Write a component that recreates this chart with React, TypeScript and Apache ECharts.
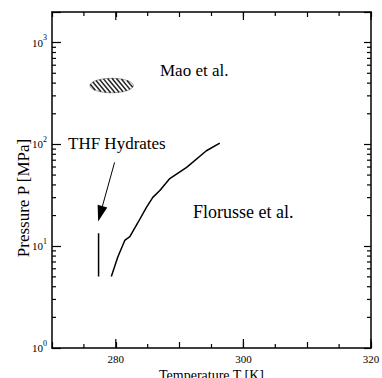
import React, { useEffect, useRef } from "react";
import * as echarts from "echarts";

// ---- data ----
const xMin = 270;
const xMax = 320;
const yMin = 1;
const yMax = 2000;

const florusseT = [279.3, 280.3, 281.4, 282.2, 283.5, 284.8, 285.8, 286.9, 288.4, 291.1, 294.2, 296.3];
const florusseP = [5.05, 7.8, 11.4, 12.4, 17.2, 24.1, 30.2, 35.2, 45.8, 59.6, 86.7, 103];

const thfT = [277.3, 277.3];
const thfP = [5.05, 13.4];

// hatched region (Mao et al.) bounds
const maoT = [275.95, 282.75];
const maoP = [322, 446];

// arrow from label to THF line
const arrowT = [279.81, 277.57];
const arrowP = [66.6, 20.8];

const xLabeledTicks = [280, 300, 320];
const xMinorTicks = [275, 285, 295, 305, 315];
const yDecades = [1, 10, 100, 1000];
const yMinorMultipliers = [2, 3, 4, 5, 6, 7, 8, 9];

const FONT = "Liberation Serif";

// layout
const W = 382;
const H = 378;
const G = { left: 52, right: 11, top: 12, bottom: 30 };

export default function App() {
  const ref = useRef<HTMLDivElement>(null);

  useEffect(() => {
    if (!ref.current) return;
    const chart = echarts.init(ref.current, null, { renderer: "svg" });

    const yMinorTicks: number[] = [];
    yDecades.forEach((d) =>
      yMinorMultipliers.forEach((m) => {
        const v = d * m;
        if (v < yMax) yMinorTicks.push(v);
      })
    );

    // convert tick lengths (px) into axis units
    const kPerPx = (xMax - xMin) / (W - G.left - G.right);
    const decPerPx = Math.log10(yMax / yMin) / (H - G.top - G.bottom);
    const yLow = yMin * 1.0005;

    const tickSeries: any[] = [];
    const seg = (a: number[], b: number[]) => ({
      type: "line",
      silent: true,
      symbol: "none",
      showSymbol: false,
      clip: false,
      z: 5,
      lineStyle: { color: "#000", width: 1.2 },
      data: [a, b],
    });
    yMinorTicks.forEach((v) => {
      const dx = 4 * kPerPx;
      tickSeries.push(seg([xMin, v], [xMin + dx, v]));
      tickSeries.push(seg([xMax - dx, v], [xMax, v]));
    });
    const xTick = (v: number, lenB: number, lenT: number) => {
      tickSeries.push(seg([v, yLow], [v, yMin * Math.pow(10, lenB * decPerPx)]));
      tickSeries.push(seg([v, yMax / Math.pow(10, lenT * decPerPx)], [v, yMax]));
    };
    xMinorTicks.forEach((v) => xTick(v, 4, 4));
    xLabeledTicks.forEach((v) => xTick(v, 9, 8));

    const ellipseRender = (params: any, api: any) => {
      const p1 = api.coord([api.value(0), api.value(1)]);
      const p2 = api.coord([api.value(2), api.value(3)]);
      const cx = (p1[0] + p2[0]) / 2;
      const cy = (p1[1] + p2[1]) / 2;
      const a = Math.abs(p2[0] - p1[0]) / 2;
      const b = Math.abs(p2[1] - p1[1]) / 2;
      const children: any[] = [
        {
          type: "ellipse",
          shape: { cx, cy, rx: a, ry: b },
          style: { fill: "#fff", stroke: "#888", lineWidth: 0.8 },
        },
      ];
      let ux = 1;
      let uy = 1.2;
      const nrm = Math.hypot(ux, uy);
      ux /= nrm;
      uy /= nrm;
      const nx = uy;
      const ny = -ux;
      const A = (ux * ux) / (a * a) + (uy * uy) / (b * b);
      const ext = Math.sqrt(a * a * nx * nx + b * b * ny * ny);
      const s = 3.4;
      for (let d = -ext + s / 2; d < ext; d += s) {
        const B = 2 * d * ((nx * ux) / (a * a) + (ny * uy) / (b * b));
        const C = d * d * ((nx * nx) / (a * a) + (ny * ny) / (b * b)) - 1;
        const disc = B * B - 4 * A * C;
        if (disc <= 0) continue;
        const t1 = (-B - Math.sqrt(disc)) / (2 * A);
        const t2 = (-B + Math.sqrt(disc)) / (2 * A);
        children.push({
          type: "line",
          shape: {
            x1: cx + d * nx + t1 * ux,
            y1: cy + d * ny + t1 * uy,
            x2: cx + d * nx + t2 * ux,
            y2: cy + d * ny + t2 * uy,
          },
          style: { stroke: "#222", lineWidth: 1.5 },
        });
      }
      return { type: "group", children };
    };

    const logLabel = (v: number) => {
      const e = Math.log10(v);
      const r = Math.round(e);
      if (Math.abs(e - r) > 1e-6) return "";
      return `{b|10}{s|${r}}`;
    };

    const axisLine = { show: true, onZero: false, lineStyle: { color: "#000", width: 1.5 } };

    const option: any = {
      animation: false,
      backgroundColor: "#fff",
      grid: { ...G, containLabel: false, outerBoundsMode: "none" },
      xAxis: [
        {
          type: "value",
          min: xMin,
          max: xMax,
          interval: 10,
          position: "bottom",
          axisLine,
          axisTick: { show: true, inside: true, length: 6, lineStyle: { color: "#000", width: 1.2 } },
          axisLabel: {
            color: "#000",
            fontFamily: FONT,
            fontSize: 11,
            margin: 5,
            formatter: (v: number) => (v % 20 === 0 ? String(v) : ""),
          },
          splitLine: { show: false },
          name: "Temperature T [K]",
          nameLocation: "middle",
          nameGap: 17,
          nameTextStyle: { color: "#000", fontFamily: FONT, fontSize: 14 },
        },
        {
          type: "value",
          min: xMin,
          max: xMax,
          interval: 10,
          position: "top",
          axisLine,
          axisTick: { show: true, inside: true, length: 5, lineStyle: { color: "#000", width: 1.2 } },
          axisLabel: { show: false },
          splitLine: { show: false },
        },
      ],
      yAxis: [
        {
          type: "log",
          logBase: 10,
          min: yMin,
          max: yMax,
          splitNumber: 3,
          position: "left",
          axisLine,
          axisTick: { show: true, inside: true, length: 9, lineStyle: { color: "#000", width: 1.2 } },
          axisLabel: {
            color: "#000",
            fontFamily: FONT,
            margin: 5,
            formatter: logLabel,
            rich: {
              b: { fontFamily: FONT, fontSize: 11, color: "#000" },
              s: { fontFamily: FONT, fontSize: 8, color: "#000", padding: [0, 0, 10, 0] },
            },
          },
          splitLine: { show: false },
        },
        {
          type: "log",
          logBase: 10,
          min: yMin,
          max: yMax,
          splitNumber: 3,
          position: "right",
          axisLine,
          axisTick: { show: true, inside: true, length: 7, lineStyle: { color: "#000", width: 1.2 } },
          axisLabel: { show: false },
          splitLine: { show: false },
        },
      ],
      series: [
        ...tickSeries,
        {
          type: "custom",
          name: "Mao et al.",
          silent: true,
          renderItem: ellipseRender,
          encode: { x: [0, 2], y: [1, 3] },
          data: [[maoT[0], maoP[0], maoT[1], maoP[1]]],
        },
        {
          type: "line",
          name: "Florusse et al.",
          showSymbol: false,
          symbol: "none",
          lineStyle: { color: "#000", width: 1.5 },
          data: florusseT.map((t, i) => [t, florusseP[i]]),
        },
        {
          type: "line",
          name: "THF Hydrates",
          showSymbol: false,
          symbol: "none",
          lineStyle: { color: "#000", width: 1.5 },
          data: thfT.map((t, i) => [t, thfP[i]]),
          markLine: {
            silent: true,
            symbol: ["none", "triangle"],
            symbolSize: [10, 16],
            label: { show: false },
            lineStyle: { color: "#000", width: 1, type: "solid" },
            itemStyle: { color: "#000" },
            data: [[{ coord: [arrowT[0], arrowP[0]] }, { coord: [arrowT[1], arrowP[1]] }]],
          },
        },
      ],
      graphic: [
        {
          type: "text",
          x: 23,
          y: 198,
          rotation: Math.PI / 2,
          style: {
            text: "Pressure P [MPa]",
            fontFamily: FONT,
            fontSize: 17,
            fill: "#000",
            textAlign: "center",
            textVerticalAlign: "middle",
          },
        },
        {
          type: "text",
          x: 160,
          y: 70,
          style: { text: "Mao et al.", fontFamily: FONT, fontSize: 17, fill: "#000", textAlign: "left", textVerticalAlign: "middle" },
        },
        {
          type: "text",
          x: 68,
          y: 143,
          style: { text: "THF Hydrates", fontFamily: FONT, fontSize: 17, fill: "#000", textAlign: "left", textVerticalAlign: "middle" },
        },
        {
          type: "text",
          x: 193,
          y: 212,
          style: { text: "Florusse et al.", fontFamily: FONT, fontSize: 18, fill: "#000", textAlign: "left", textVerticalAlign: "middle" },
        },
      ],
    };

    chart.setOption(option);
    return () => chart.dispose();
  }, []);

  return (
    <div
      ref={ref}
      style={{ position: "fixed", left: 0, top: 0, width: W, height: H, background: "#fff" }}
    />
  );
}
